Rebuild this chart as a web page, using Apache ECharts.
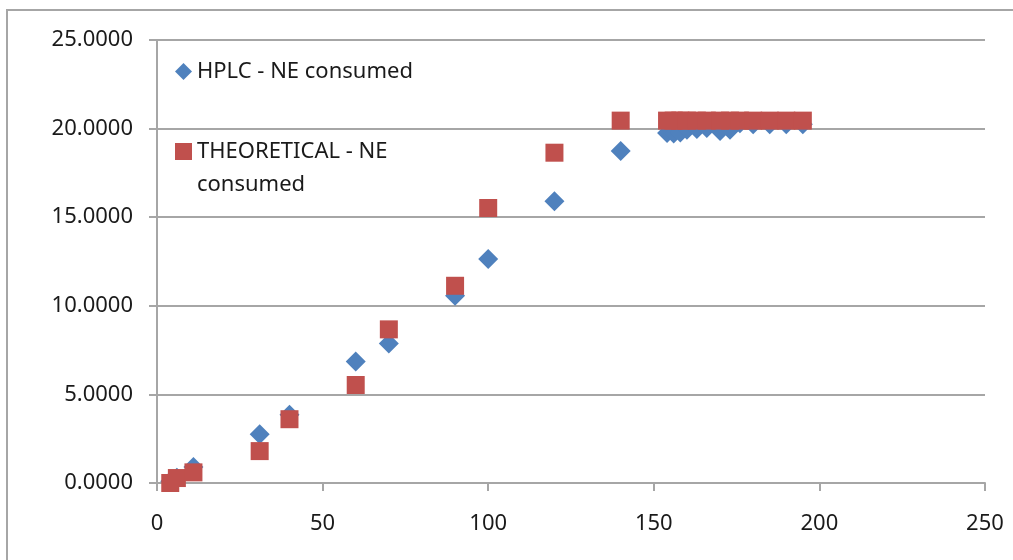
<!DOCTYPE html>
<html>
<head>
<meta charset="utf-8">
<script src="https://cdn.jsdelivr.net/npm/echarts@6/dist/echarts.min.js"></script>
<style>
  html, body { margin: 0; padding: 0; background: #fff; }
  #myChart { width: 1013px; height: 560px; }
</style>
</head>
<body>
<div id="myChart"></div>
<script>
// sampling times
var times = [4, 6, 11, 31, 40, 60, 70, 90, 100, 120, 140, 154, 156, 158, 160, 163, 166, 170, 173, 176, 180, 185, 190, 195];
// HPLC - NE consumed
var hplc = [0.1, 0.3, 0.9, 2.75, 3.85, 6.85, 7.87, 10.57, 12.64, 15.9, 18.74, 19.75, 19.72, 19.78, 19.94, 19.98, 20.03, 19.86, 19.94, 20.3, 20.25, 20.25, 20.25, 20.25];
// THEORETICAL - NE consumed
var theoretical = [0.0, 0.28, 0.6, 1.8, 3.6, 5.53, 8.67, 11.13, 15.52, 18.64, 20.45, 20.45, 20.45, 20.45, 20.45, 20.45, 20.45, 20.45, 20.45, 20.45, 20.45, 20.45, 20.45, 20.45];

var names = ['HPLC - NE consumed', 'THEORETICAL - NE consumed'];

function pairs(xs, ys) {
  return xs.map(function (x, i) { return [x, ys[i]]; });
}

var font = '"Noto Sans", "Open Sans", sans-serif';
var gray = '#a6a6a6';

var myChart = echarts.init(document.getElementById('myChart'));
myChart.setOption({
  animation: false,
  textStyle: { fontFamily: font },
  graphic: [{
    type: 'rect',
    shape: { x: 7, y: 10, width: 1100, height: 700 },
    style: { fill: 'none', stroke: gray, lineWidth: 2 },
    silent: true
  }],
  legend: {
    orient: 'vertical',
    left: 175,
    top: 55,
    padding: 0,
    itemGap: 14,
    itemWidth: 17,
    itemHeight: 17,
    textStyle: { fontSize: 22, color: '#1a1a1a', lineHeight: 33 },
    // the long name wraps; a blank first line keeps the icon next to its first line
    formatter: function (name) {
      return name === names[1] ? '\nTHEORETICAL - NE\nconsumed' : name;
    },
    data: [
      { name: names[0], icon: 'diamond' },
      { name: names[1], icon: 'rect' }
    ]
  },
  grid: { left: 157, right: 28, top: 40, bottom: 77 },
  xAxis: {
    type: 'value',
    min: 0, max: 250, interval: 50,
    axisLine: { show: true, lineStyle: { color: gray, width: 2 } },
    axisTick: { show: true, length: 8, lineStyle: { color: gray, width: 2 } },
    axisLabel: { fontSize: 22, color: '#1a1a1a', margin: 30 },
    splitLine: { show: false }
  },
  yAxis: {
    type: 'value',
    min: 0, max: 25, interval: 5,
    axisLine: { show: true, lineStyle: { color: gray, width: 2 } },
    axisTick: { show: true, length: 8, lineStyle: { color: gray, width: 2 } },
    axisLabel: {
      fontSize: 22, color: '#1a1a1a', margin: 24,
      formatter: function (v) { return v.toFixed(4); }
    },
    splitLine: { show: true, lineStyle: { color: gray, width: 2 } }
  },
  series: [
    {
      name: names[0],
      type: 'scatter',
      symbol: 'diamond',
      symbolSize: 20,
      itemStyle: { color: '#4f81bd', opacity: 1 },
      data: pairs(times, hplc)
    },
    {
      name: names[1],
      type: 'scatter',
      symbol: 'rect',
      symbolSize: 18,
      itemStyle: { color: '#c0504d', opacity: 1 },
      data: pairs(times, theoretical)
    }
  ]
});
</script>
</body>
</html>
